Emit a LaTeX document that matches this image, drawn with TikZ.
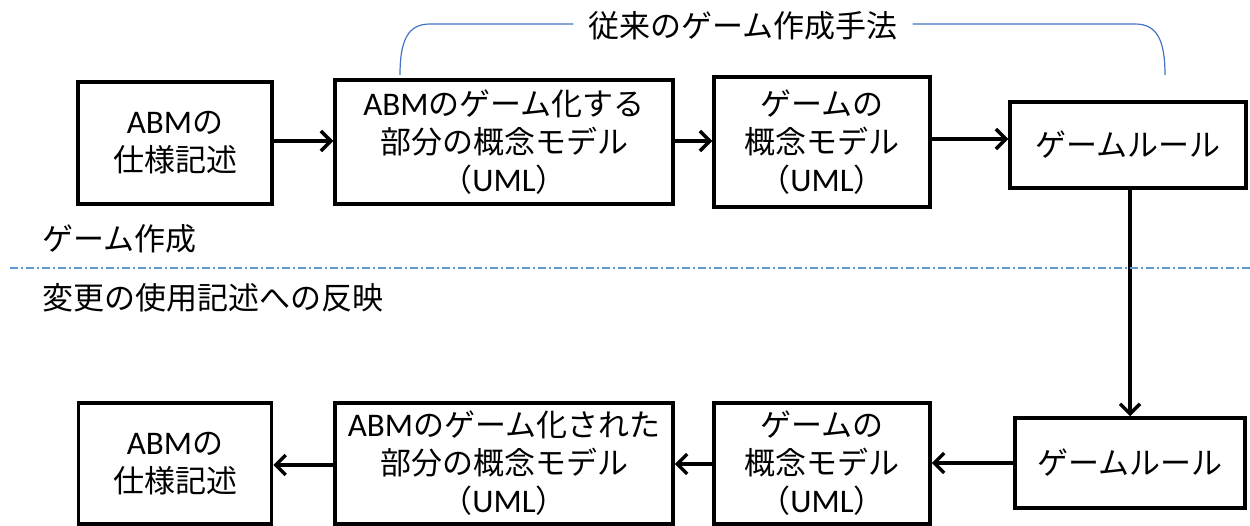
\documentclass[tikz,border=0pt]{standalone}
\usepackage{fontspec}
\setmainfont{Noto Sans CJK JP}
\newfontfamily\lat{Carlito}
\usetikzlibrary{arrows.meta}
\definecolor{bracecol}{RGB}{68,114,196}
\definecolor{sepcol}{RGB}{91,155,213}
\tikzset{
  box/.style={draw=black,line width=3.5pt,align=center,inner sep=0pt,font=\fontsize{31}{38}\selectfont},
  conn/.style={line width=3.5pt,-{Straight Barb[length=10pt,width=20pt]}},
  lbl/.style={anchor=west,inner sep=0pt,font=\fontsize{31}{36}\selectfont}
}
\newcommand{\umltxt}{（{\lat\fontsize{33}{33}\selectfont UML}）}
\newcommand{\abm}{{\lat\fontsize{33}{33}\selectfont ABM}}
\begin{document}
\begin{tikzpicture}[x=1pt,y=-1pt]
\useasboundingbox (0,0) rectangle (1250,526);
% top row
\node[box,minimum width=194pt,minimum height=122pt] (a1) at (175,143) {\abm の\\仕様記述};
\node[box,minimum width=338pt,minimum height=124pt] (a2) at (504,142) {\abm のゲーム化する\\部分の概念モデル\\\umltxt};
\node[box,minimum width=216pt,minimum height=130pt] (a3) at (822,142) {ゲームの\\概念モデル\\\umltxt};
\node[box,minimum width=236pt,minimum height=86pt] (a4) at (1128,145) {ゲームルール};
% bottom row
\node[box,minimum width=230pt,minimum height=90pt] (b4) at (1130,463) {ゲームルール};
\node[box,minimum width=216pt,minimum height=121pt] (b3) at (822,463.5) {ゲームの\\概念モデル\\\umltxt};
\node[box,minimum width=338pt,minimum height=121pt] (b2) at (504,463.5) {\abm のゲーム化された\\部分の概念モデル\\\umltxt};
\node[box,minimum width=193pt,minimum height=121pt] (b1) at (175,463.5) {\abm の\\仕様記述};
% connectors
\draw[conn] (a1.east |- 0,141) -- (a2.west |- 0,141);
\draw[conn] (a2.east |- 0,141) -- (a3.west |- 0,141);
\draw[conn] (a3.east |- 0,139) -- (a4.west |- 0,139);
\draw[conn] (a4.south -| 1130,0) -- (b4.north -| 1130,0);
\draw[conn] (b4.west |- 0,463) -- (b3.east |- 0,463);
\draw[conn] (b3.west |- 0,464) -- (b2.east |- 0,464);
\draw[conn] (b2.west |- 0,465) -- (b1.east |- 0,465);
% brace
\node[inner sep=0pt,font=\fontsize{31}{36}\selectfont] (title) at (743,26) {従来のゲーム作成手法};
\coordinate (bl) at (400,75);
\coordinate (br) at (1165,75);
\draw[bracecol,line width=1.2pt] ([xshift=-15pt]title.west |- 0,24) -- (430,24) .. controls (408,24) and (400,40) .. (bl);
\draw[bracecol,line width=1.2pt] ([xshift=15pt]title.east |- 0,24) -- (1135,24) .. controls (1157,24) and (1165,40) .. (br);
% labels and separator
\node[lbl] (l1) at (42,239) {ゲーム作成};
\node[lbl] (l2) at (42,298) {変更の使用記述への反映};
\coordinate (s1) at (10,268);
\coordinate (s2) at (1250,268);
\draw[sepcol,line width=1.3pt,dash pattern=on 8pt off 3pt on 2pt off 3pt] (s1) -- (s2);
\end{tikzpicture}
\end{document}
